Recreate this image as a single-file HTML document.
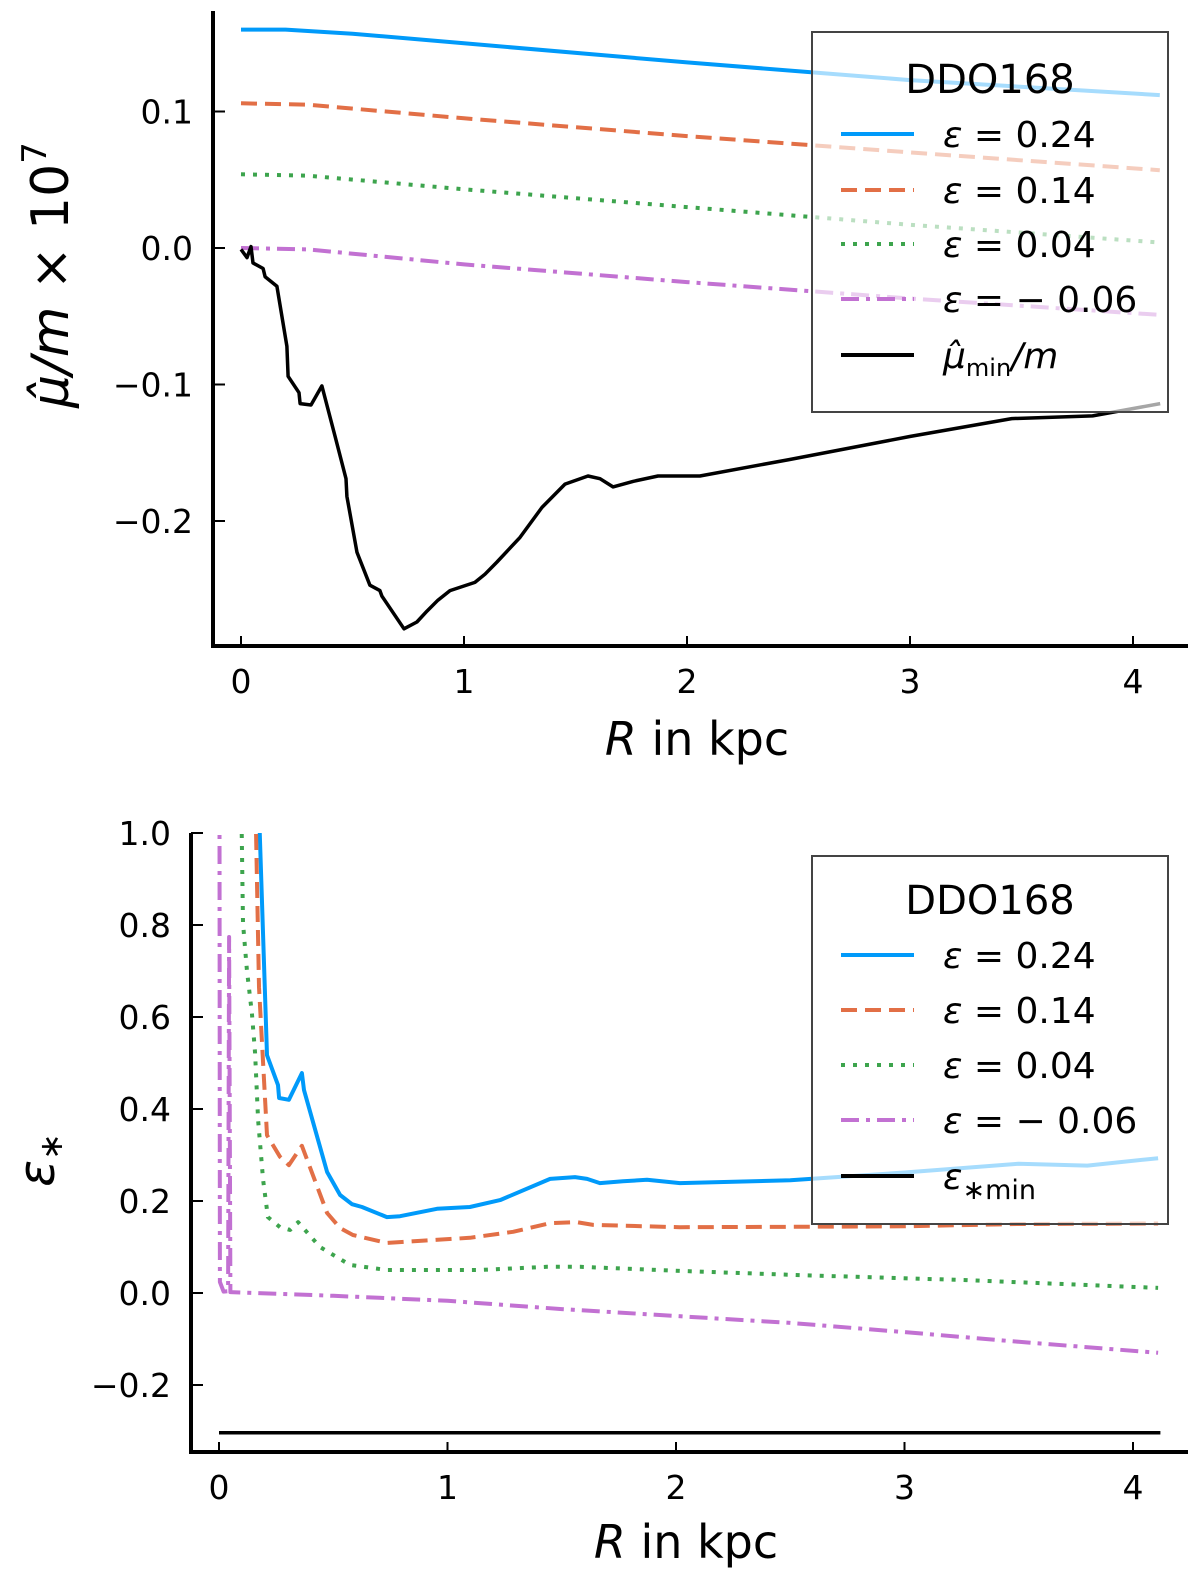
<!DOCTYPE html>
<html><head><meta charset="utf-8"><style>
body{margin:0;background:#fff}
svg{display:block;font-family:"DejaVu Sans","Liberation Sans",sans-serif}
</style></head><body>
<svg id="fig" width="1200" height="1582" viewBox="0 0 1200 1582" xmlns="http://www.w3.org/2000/svg">
<defs>
<clipPath id="clipTop"><rect x="213" y="0" width="987" height="646"/></clipPath>
<clipPath id="clipBot"><rect x="191" y="833" width="1009" height="619"/></clipPath>
</defs>
<g id="top"></g>
<g id="bot"></g>
</svg>
<script>
// ---------- data: top panel ----------
const topTicksX = [0,1,2,3,4];
const topTicksY = [0.1,0.0,-0.1,-0.2];
const topTickLabelsY = ["0.1","0.0","\u22120.1","\u22120.2"];
const topBlueX = [0,0.2,0.5,1,2,3,4.12];
const topBlueY = [0.160,0.160,0.157,0.150,0.136,0.123,0.112];
const topRedX = [0,0.3,1,2,3,4.12];
const topRedY = [0.106,0.105,0.095,0.082,0.070,0.057];
const topGreenX = [0,0.3,1,2,3,4.12];
const topGreenY = [0.054,0.053,0.043,0.030,0.017,0.004];
const topPurpleX = [0,0.3,1,2,3,4.12];
const topPurpleY = [0,-0.001,-0.012,-0.025,-0.037,-0.049];
const topBlackX = [0,0.027,0.045,0.054,0.099,0.108,0.161,0.206,0.211,0.260,0.265,0.314,0.363,0.422,0.471,0.475,0.520,0.578,0.623,0.632,0.731,0.789,0.834,0.883,0.937,1.049,1.094,1.148,1.251,1.350,1.453,1.556,1.610,1.668,1.758,1.870,1.978,2.058,2.458,3.002,3.456,3.819,4.122];
const topBlackY = [-0.001,-0.007,0.001,-0.011,-0.015,-0.021,-0.028,-0.072,-0.094,-0.106,-0.114,-0.115,-0.101,-0.138,-0.169,-0.182,-0.223,-0.247,-0.251,-0.255,-0.279,-0.274,-0.266,-0.258,-0.251,-0.245,-0.239,-0.230,-0.212,-0.190,-0.173,-0.167,-0.169,-0.175,-0.171,-0.167,-0.167,-0.167,-0.155,-0.138,-0.125,-0.123,-0.114];
// ---------- data: bottom panel ----------
const botTicksX = [0,1,2,3,4];
const botTicksY = [1.0,0.8,0.6,0.4,0.2,0.0,-0.2];
const botTickLabelsY = ["1.0","0.8","0.6","0.4","0.2","0.0","\u22120.2"];
const botBlueX = [0.175,0.210,0.258,0.263,0.306,0.363,0.372,0.473,0.530,0.582,0.626,0.735,0.792,0.954,1.098,1.230,1.449,1.558,1.611,1.667,1.768,1.873,2.017,2.5,3.0,3.5,3.8,4.11];
const botBlueY = [1.05,0.517,0.452,0.424,0.420,0.478,0.441,0.263,0.213,0.193,0.187,0.165,0.167,0.183,0.187,0.202,0.248,0.252,0.248,0.239,0.243,0.246,0.239,0.245,0.262,0.281,0.277,0.293];
const botRedX = [0.160,0.175,0.210,0.267,0.306,0.363,0.473,0.530,0.586,0.735,1.098,1.287,1.449,1.567,1.637,2.017,2.5,3.0,3.5,4.11];
const botRedY = [1.05,0.665,0.343,0.296,0.278,0.320,0.174,0.141,0.126,0.109,0.120,0.133,0.152,0.154,0.148,0.143,0.144,0.145,0.150,0.151];
const botGreenX = [0.098,0.105,0.122,0.144,0.158,0.171,0.193,0.214,0.267,0.311,0.346,0.442,0.573,0.735,1.142,1.435,1.58,2.017,2.54,3.27,4.11];
const botGreenY = [1.05,0.804,0.702,0.608,0.521,0.376,0.246,0.165,0.143,0.137,0.154,0.100,0.061,0.050,0.050,0.057,0.057,0.048,0.039,0.028,0.011];
const botPurpleX = [0.002,0.004,0.020,0.040,0.044,0.050,0.5,1.0,1.5,2.0,2.5,3.0,3.5,4.11];
const botPurpleY = [1.05,0.024,0.003,0.004,0.774,0.002,-0.006,-0.017,-0.035,-0.050,-0.065,-0.085,-0.106,-0.130];
const botBlackX = [0,4.12];
const botBlackY = [-0.304,-0.304];
const legendValues = ["= 0.24","= 0.14","= 0.04","= \u2212 0.06"];

const NS="http://www.w3.org/2000/svg";
function mk(tag, attrs, parent){const e=document.createElementNS(NS,tag);for(const k in attrs)e.setAttribute(k,attrs[k]);parent.appendChild(e);return e;}
const COLORS=["#009afa","#e26f46","#3da44d","#c271d2","#000"];
const DASH=["none","16 8","4 8","18 7 4 7","none"];

function panel(g, P){
  const sx=v=>P.x0+v*P.kx, sy=v=>P.y0-v*P.ky;
  const cg=mk('g',{'clip-path':P.clip},g);
  P.series.forEach((s,i)=>{
    let d=s[0].map((x,j)=>(j?'L':'M')+sx(x).toFixed(1)+' '+sy(s[1][j]).toFixed(1)).join(' ');
    const p=mk('path',{d:d,fill:'none',stroke:COLORS[i],'stroke-width':i==4?3.5:4,'stroke-dasharray':DASH[i],'stroke-linejoin':'round'},cg);
    
    
  });
  const ax=mk('path',{d:`M${P.left} ${P.top} L${P.left} ${P.bottom} L${P.right} ${P.bottom}`,fill:'none',stroke:'#000','stroke-width':4},g);
  
  
  P.tx.forEach(t=>{
    mk('line',{x1:sx(t),x2:sx(t),y1:P.bottom,y2:P.bottom-10,stroke:'#000','stroke-width':2},g);
    const tt=mk('text',{x:sx(t),y:P.bottom+47,'font-size':33,'text-anchor':'middle'},g);
    tt.textContent=String(t);
    
    
  });
  P.ty.forEach((t,i)=>{
    mk('line',{x1:P.left,x2:P.left+12,y1:sy(t),y2:sy(t),stroke:'#000','stroke-width':2},g);
    const tt=mk('text',{x:P.left-20,y:sy(t)+12,'font-size':33,'text-anchor':'end'},g);
    tt.textContent=P.tyl[i];
    
    
  });
  const L=P.leg;
  const lg=mk('g',{},g);
  
  
  mk('rect',{x:L.x,y:L.y,width:L.w,height:L.h,fill:'#fff','fill-opacity':0.65,stroke:'#444','stroke-width':2},lg);
  const ti=mk('text',{x:L.x+178,y:L.ys[0]+14,'font-size':40,'text-anchor':'middle'},lg);
  ti.textContent='DDO168';
  
  
  for(let i=0;i<5;i++){
    const yy=L.ys[i+1];
    const ln=mk('line',{x1:L.x+29,x2:L.x+102,y1:yy,y2:yy,stroke:COLORS[i],'stroke-width':4,'stroke-dasharray':DASH[i]},lg);
    
    
    const tx=mk('text',{x:L.x+131,y:yy+13,'font-size':36},lg);
    if(i<4) tx.innerHTML='<tspan font-style="italic">\u03b5</tspan> '+legendValues[i];
    else tx.innerHTML=P.lastLabel;
    
    
  }
}

panel(document.getElementById('top'),{
  x0:241,kx:223,y0:248,ky:1365,left:213,top:11,bottom:646,right:1188,clip:'url(#clipTop)',
  series:[[topBlueX,topBlueY],[topRedX,topRedY],[topGreenX,topGreenY],[topPurpleX,topPurpleY],[topBlackX,topBlackY]],
  names:['line-eps-0.24','line-eps-0.14','line-eps-0.04','line-eps-neg0.06','line-mu-min'],
  tx:topTicksX,ty:topTicksY,tyl:topTickLabelsY,
  leg:{x:812,y:32,w:356,h:380,ys:[79,134,190,244,299,355]},
  lastLabel:'<tspan font-style="italic">\u03bc\u0302</tspan><tspan font-size="24" dy="8">min</tspan><tspan dy="-8" font-style="italic">/m</tspan>'
});
panel(document.getElementById('bot'),{
  x0:219,kx:228.5,y0:1293,ky:460,left:191,top:833,bottom:1452,right:1188,clip:'url(#clipBot)',
  series:[[botBlueX,botBlueY],[botRedX,botRedY],[botGreenX,botGreenY],[botPurpleX,botPurpleY],[botBlackX,botBlackY]],
  names:['line-eps-0.24','line-eps-0.14','line-eps-0.04','line-eps-neg0.06','line-eps-star-min'],
  tx:botTicksX,ty:botTicksY,tyl:botTickLabelsY,
  leg:{x:812,y:856,w:356,h:368,ys:[900,955,1010,1065,1120,1176]},
  lastLabel:'<tspan font-style="italic">\u03b5</tspan><tspan font-size="27" dy="10">\u2217min</tspan>'
});
const svg=document.getElementById('fig');
let t;
t=mk('text',{x:697,y:755,'font-size':46,'text-anchor':'middle'},svg);
t.innerHTML='<tspan font-style="italic">R</tspan> in kpc';


t=mk('text',{x:686,y:1558,'font-size':46,'text-anchor':'middle'},svg);
t.innerHTML='<tspan font-style="italic">R</tspan> in kpc';


t=mk('text',{x:0,y:0,'font-size':52,'text-anchor':'middle'},svg);
t.setAttribute('transform','translate(68 275) rotate(-90)');
t.innerHTML='<tspan font-style="italic">\u03bc\u0302/m</tspan> \u00d7 10<tspan font-size="34" dy="-22">7</tspan>';


t=mk('text',{x:0,y:0,'font-size':50,'text-anchor':'middle'},svg);
t.setAttribute('transform','translate(54 1160) rotate(-90)');
t.innerHTML='<tspan font-style="italic">\u03b5</tspan><tspan font-size="32" dy="8">\u2217</tspan>';


</script>
</body></html>
